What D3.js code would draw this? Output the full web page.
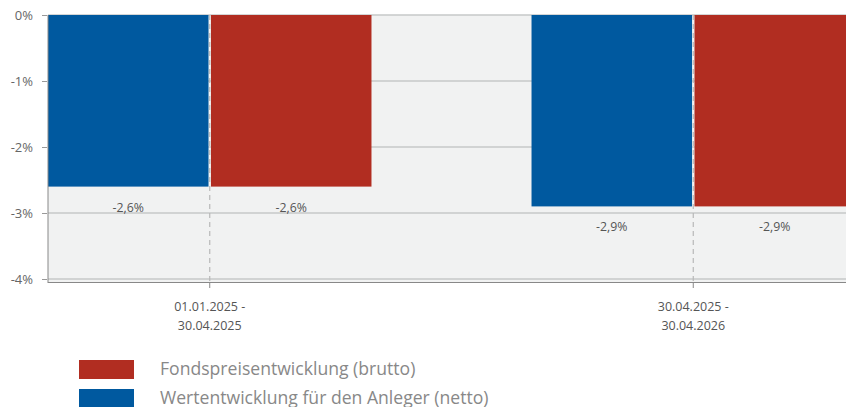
<!DOCTYPE html>
<html>
<head>
<meta charset="utf-8">
<script src="https://cdn.jsdelivr.net/npm/d3@7"></script>
<style>
  html, body { margin: 0; background: #fff; }
  text { font-family: "Open Sans", "Noto Sans", sans-serif; }
</style>
</head>
<body>
<script>
const periods = ['01.01.2025 -|30.04.2025', '30.04.2025 -|30.04.2026'];
const series = ['netto', 'brutto'];
const netto = [-2.6, -2.9];
const brutto = [-2.6, -2.9];
const yTicks = [0, -1, -2, -3, -4];
const legendItems = [
  { key: 'brutto', label: 'Fondspreisentwicklung (brutto)' },
  { key: 'netto', label: 'Wertentwicklung für den Anleger (netto)' }
];

const width = 846;
const height = 407;
const colors = { netto: '#00599f', brutto: '#b12d21' };

const svg = d3.select('body')
  .append('svg')
  .attr('width', width)
  .attr('height', height);

const plotL = 48, plotT = 15, plotB = 279, plotR = 855;

const y = d3.scaleLinear().domain([0, -4]).range([plotT, plotB]);
const x0 = d3.scaleBand().domain(periods).range([plotL, plotR])
  .paddingInner(0.331).paddingOuter(0);
const x1 = d3.scaleBand().domain(series).range([0, x0.bandwidth()]).paddingInner(0.015);

// plot background
svg.append('rect')
  .attr('x', plotL).attr('y', plotT)
  .attr('width', width - plotL).attr('height', plotB - plotT + 3)
  .attr('fill', '#f1f2f2');

// horizontal gridlines
svg.selectAll('.grid')
  .data(yTicks)
  .enter().append('line')
  .attr('x1', plotL).attr('x2', width)
  .attr('y1', d => y(d)).attr('y2', d => y(d))
  .attr('stroke', '#c6c8c8')
  .attr('stroke-width', 1.5);

// bars
const rows = periods.map((p, i) => ({ p, netto: netto[i], brutto: brutto[i] }));
const g = svg.selectAll('.group')
  .data(rows)
  .enter().append('g')
  .attr('transform', d => `translate(${x0(d.p)},0)`);

g.selectAll('rect')
  .data(d => series.map(k => ({ k, v: d[k] })))
  .enter().append('rect')
  .attr('x', d => x1(d.k))
  .attr('width', x1.bandwidth())
  .attr('y', y(0))
  .attr('height', d => y(d.v) - y(0))
  .attr('fill', d => colors[d.k]);

g.selectAll('.val')
  .data(d => series.map(k => ({ k, v: d[k] })))
  .enter().append('text')
  .attr('x', d => x1(d.k) + x1.bandwidth() / 2)
  .attr('y', d => y(d.v) + 25)
  .attr('text-anchor', 'middle')
  .attr('font-size', 12.3)
  .attr('fill', '#555')
  .text(d => d3.format('.1f')(d.v).replace('.', ',').replace('−', '-') + '%');

// vertical dashed center lines
svg.selectAll('.vline')
  .data(periods)
  .enter().append('line')
  .attr('x1', d => x0(d) + x0.bandwidth() / 2)
  .attr('x2', d => x0(d) + x0.bandwidth() / 2)
  .attr('y1', plotT).attr('y2', plotB + 3)
  .attr('stroke', '#b8b8b8')
  .attr('stroke-width', 1.2)
  .attr('stroke-dasharray', '5,4');

// x axis line + ticks
svg.append('line')
  .attr('x1', plotL).attr('x2', width)
  .attr('y1', plotB + 3.5).attr('y2', plotB + 3.5)
  .attr('stroke', '#888')
  .attr('stroke-width', 1);

svg.selectAll('.xtick')
  .data(periods)
  .enter().append('line')
  .attr('x1', d => x0(d) + x0.bandwidth() / 2)
  .attr('x2', d => x0(d) + x0.bandwidth() / 2)
  .attr('y1', plotB + 3).attr('y2', plotB + 9)
  .attr('stroke', '#888');

const xl = svg.selectAll('.xlab')
  .data(periods)
  .enter().append('text')
  .attr('text-anchor', 'middle')
  .attr('font-size', 12.5)
  .attr('fill', '#555');
xl.selectAll('tspan')
  .data(d => d.split('|').map(s => ({ s, d })))
  .enter().append('tspan')
  .attr('x', d => x0(d.d) + x0.bandwidth() / 2)
  .attr('y', (d, i) => 311 + i * 19)
  .text(d => d.s);

// y axis
svg.append('line')
  .attr('x1', plotL).attr('x2', plotL)
  .attr('y1', plotT).attr('y2', plotB + 4)
  .attr('stroke', '#888');

const yAxis = d3.axisLeft(y)
  .tickValues(yTicks)
  .tickSize(5)
  .tickPadding(9)
  .tickFormat(d => d + '%');
const ya = svg.append('g')
  .attr('transform', `translate(${plotL - 1},0)`)
  .call(yAxis);
ya.select('.domain').remove();
ya.selectAll('line').attr('stroke', '#999');
ya.selectAll('text')
  .attr('font-size', 13)
  .attr('fill', '#666')
  .attr('font-family', '"Open Sans", sans-serif')
  .text(d => d + '%');

// legend
const lg = svg.selectAll('.legend')
  .data(legendItems)
  .enter().append('g')
  .attr('transform', (d, i) => `translate(79,${360 + i * 29})`);
lg.append('rect')
  .attr('width', 55).attr('height', 19)
  .attr('fill', d => colors[d.key]);
lg.append('text')
  .attr('x', 81).attr('y', 15)
  .attr('font-size', 17.6)
  .attr('fill', '#888')
  .text(d => d.label);
</script>
</body>
</html>
